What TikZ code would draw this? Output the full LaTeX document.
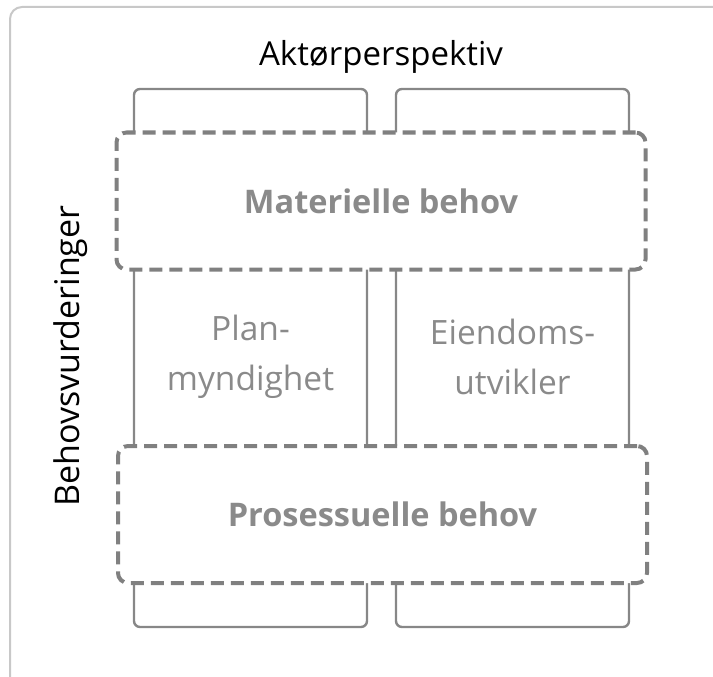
\documentclass[tikz,border=0pt]{standalone}
\usepackage{fontspec}
\setmainfont{Open Sans}
\definecolor{framegray}{HTML}{C8C8C8}
\definecolor{linegray}{HTML}{878787}
\definecolor{dashgray}{HTML}{808080}
\definecolor{textgray}{HTML}{8A8A8A}
\begin{document}
\begin{tikzpicture}[x=1pt,y=-1pt,
  colbox/.style={draw=linegray, line width=2.4pt, rounded corners=6pt, minimum width=233pt, minimum height=538pt, inner sep=0pt, anchor=center},
  needbox/.style={draw=dashgray, fill=white, line width=4pt, rounded corners=10pt, dash pattern=on 13pt off 7pt, minimum width=529pt, minimum height=137pt, inner sep=0pt, text=textgray, font=\fontsize{32.5}{36}\selectfont\bfseries},
  actorlabel/.style={text=textgray, align=center, font=\fontsize{33.5}{50}\selectfont},
  title/.style={text=black, font=\fontsize{33}{36}\selectfont}
]
\useasboundingbox (0,0) rectangle (713,677);
\begin{scope}
\clip (0,0) rectangle (713,677);
\draw[framegray, line width=2pt, rounded corners=12pt] (10,7) rectangle (740,700);
\end{scope}
\node[colbox] (colL) at (250.5,358) {};
\node[colbox] (colR) at (512.5,358) {};
\node[actorlabel] (plan) at (250.5,357) {Plan-\\myndighet};
\node[actorlabel] (eiend) at (512.5,357) {Eiendoms-\\utvikler};
\node[needbox] (mat) at (381,201) {Materielle behov};
\node[needbox] (pros) at (382.5,514.5) {Prosessuelle behov};
\node[title] (akt) at (381,57) {Aktørperspektiv};
\node[title, font=\fontsize{34}{38}\selectfont, rotate=90] (beh) at (71,356) {Behovsvurderinger};
\end{tikzpicture}
\end{document}
